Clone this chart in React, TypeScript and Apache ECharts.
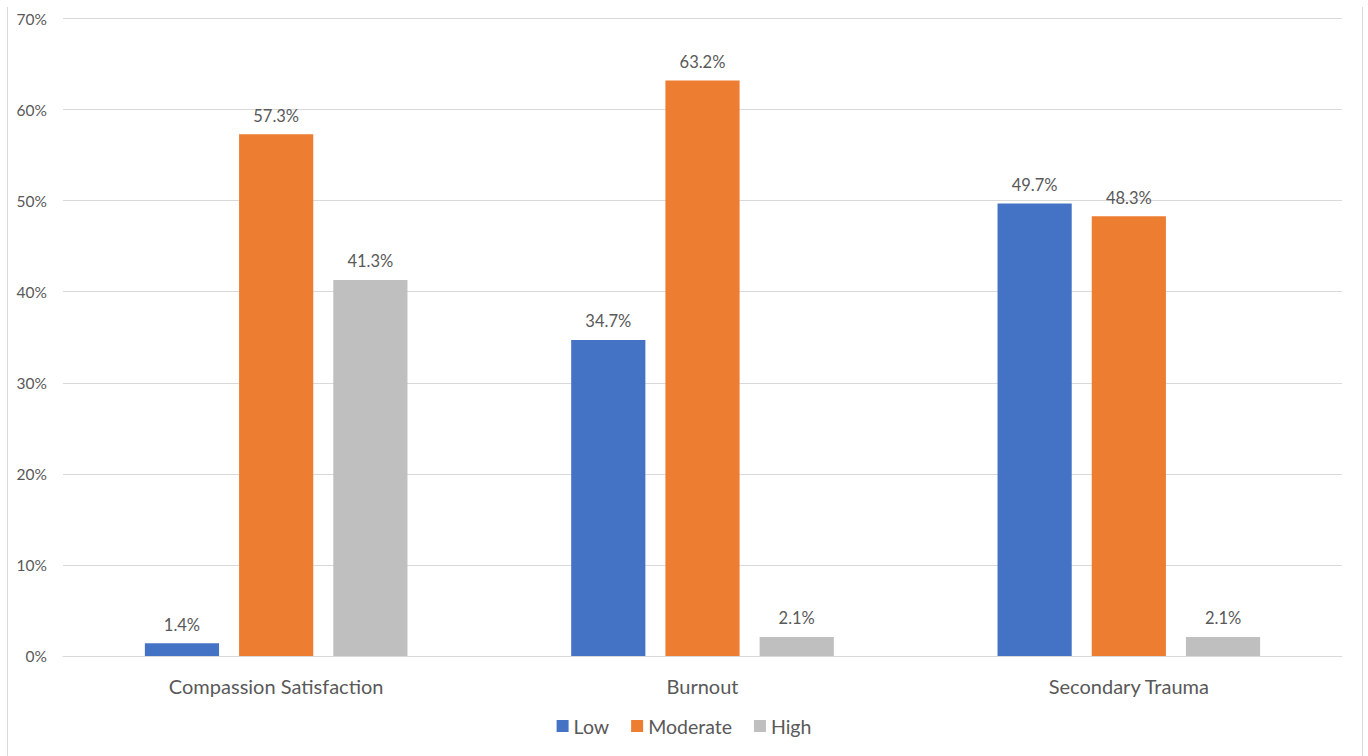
import React, { useEffect, useRef } from "react";
import * as echarts from "echarts";

const categories = ["Compassion Satisfaction", "Burnout", "Secondary Trauma"];
const seriesNames = ["Low", "Moderate", "High"];
const lowValues = [1.4, 34.7, 49.7];
const moderateValues = [57.3, 63.2, 48.3];
const highValues = [41.3, 2.1, 2.1];
const colors = ["#4472C4", "#ED7D31", "#BFBFBF"];

const FONT = "Lato, 'Open Sans', sans-serif";

export default function App() {
  const ref = useRef<HTMLDivElement>(null);
  useEffect(() => {
    const chart = echarts.init(ref.current!, null, { renderer: "svg" });
    const data = [lowValues, moderateValues, highValues];
    chart.setOption({
      animation: false,
      textStyle: { fontFamily: FONT },
      graphic: [
        { type: "line", shape: { x1: 7.5, y1: 7, x2: 7.5, y2: 756 }, style: { stroke: "#D9D9D9", lineWidth: 1 } },
        { type: "line", shape: { x1: 1362.5, y1: 7, x2: 1362.5, y2: 756 }, style: { stroke: "#D9D9D9", lineWidth: 1 } },
      ],
      grid: { left: 63, right: 26, top: 18.5, bottom: 100, containLabel: false },
      legend: {
        bottom: 15,
        left: "center",
        itemWidth: 12,
        itemHeight: 12,
        itemGap: 22,
        icon: "rect",
        textStyle: { color: "#595959", fontSize: 19.5, fontFamily: FONT },
        data: seriesNames,
      },
      xAxis: {
        type: "category",
        data: categories,
        axisLine: { show: true, lineStyle: { color: "#D9D9D9", width: 1 } },
        axisTick: { show: false },
        axisLabel: { color: "#595959", fontSize: 20, margin: 20, fontFamily: FONT },
      },
      yAxis: {
        type: "value",
        min: 0,
        max: 70,
        interval: 10,
        axisLine: { show: false },
        axisTick: { show: false },
        splitLine: { lineStyle: { color: "#D9D9D9", width: 1 } },
        axisLabel: { color: "#595959", fontSize: 15.5, margin: 16, formatter: "{value}%", fontFamily: FONT },
      },
      series: seriesNames.map((name, i) => ({
        name,
        type: "bar",
        data: data[i],
        barWidth: "17.4%",
        barGap: "27%",
        itemStyle: { color: colors[i] },
        label: {
          show: true,
          position: "top",
          distance: 10,
          color: "#595959",
          fontSize: 16.5,
          fontFamily: FONT,
          formatter: (p: any) => p.value.toFixed(1) + "%",
        },
      })),
    });
    return () => chart.dispose();
  }, []);
  return <div ref={ref} style={{ position: "fixed", left: 0, top: 0, width: 1368, height: 756, background: "#fff" }} />;
}
